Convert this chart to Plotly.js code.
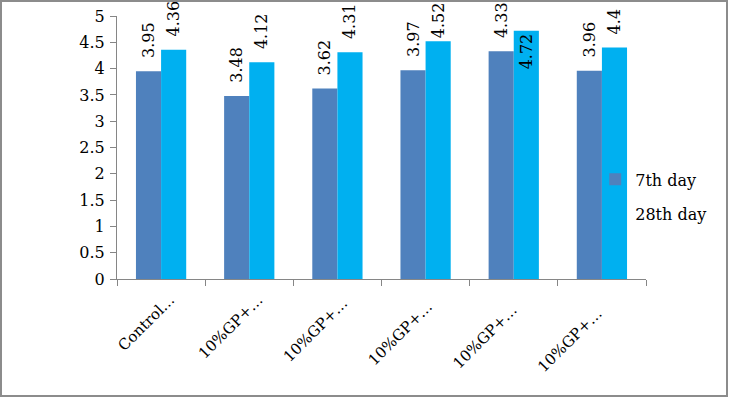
<!DOCTYPE html>
<html>
<head>
<meta charset="utf-8">
<script src="https://cdn.plot.ly/plotly-3.0.1.min.js"></script>
<style>
html,body{margin:0;padding:0;background:#fff;}
#wrap{position:relative;width:730px;height:400px;}
#chart{position:absolute;left:0;top:0;width:730px;height:400px;}
#frame{position:absolute;left:0;top:0;width:728px;height:397px;box-sizing:border-box;border:2px solid #8c8c8c;pointer-events:none;}
</style>
</head>
<body>
<div id="wrap"><div id="chart"></div><div id="frame"></div></div>
<script>
const categories = ["Control…", "10%GP+…", "10%GP+… ", "10%GP+…  ", "10%GP+…   ", "10%GP+…    "];
const day7 = [3.95, 3.48, 3.62, 3.97, 4.33, 3.96];
const day28 = [4.36, 4.12, 4.31, 4.52, 4.72, 4.4];
const seriesNames = ["7th day", "28th day"];
const seriesColors = ["#4F81BD", "#00B0F0"];

const font = "DejaVu Serif";
// labels near the chart top are pulled in so they stay inside the frame
function tmpl(v){ return v > 4.45 ? "%{y}" : "\u00a0\u00a0%{y}"; }
function pos(v){ return v > 4.65 ? "inside" : "outside"; }
function trace(vals, i){
  return {
    type: "bar",
    x: categories,
    y: vals,
    name: seriesNames[i],
    legendgroup: "g" + i,
    marker: {color: seriesColors[i]},
    texttemplate: vals.map(tmpl),
    textposition: vals.map(pos),
    insidetextanchor: "end",
    textangle: -90,
    constraintext: "none",
    cliponaxis: false,
    textfont: {family: font, size: 16, color: "#000"},
    insidetextfont: {family: font, size: 16, color: "#000"},
    outsidetextfont: {family: font, size: 16, color: "#000"},
    hoverinfo: "none"
  };
}
const data = [trace(day7, 0), trace(day28, 1)];
const layout = {
  width: 730, height: 400,
  margin: {l: 117, r: 84, t: 16, b: 121},
  paper_bgcolor: "#fff", plot_bgcolor: "#fff",
  barmode: "group", bargap: 0.43, bargroupgap: 0,
  font: {family: font, size: 16, color: "#000"},
  xaxis: {
    type: "category",
    showline: true, linecolor: "#868686", linewidth: 1,
    ticks: "outside", ticklen: 6, tickcolor: "#868686", tickson: "boundaries",
    tickangle: -45, tickfont: {family: font, size: 15, color: "#000"},
    ticklabelstandoff: 5, ticklabelshift: 9,
    showgrid: false, zeroline: false, fixedrange: true
  },
  yaxis: {
    range: [0, 5], dtick: 0.5, tick0: 0,
    showline: true, linecolor: "#868686", linewidth: 1,
    ticks: "outside", ticklen: 6, tickcolor: "#868686",
    tickfont: {family: font, size: 16, color: "#000"},
    ticklabelstandoff: 2,
    showgrid: false, zeroline: false, fixedrange: true
  },
  showlegend: true,
  legend: {
    x: 0.904, xanchor: "left", y: 0.312, yanchor: "middle",
    bgcolor: "rgba(0,0,0,0)", traceorder: "grouped", tracegroupgap: 11,
    font: {family: font, size: 16, color: "#000"}
  }
};
Plotly.newPlot("chart", data, layout, {displayModeBar: false, staticPlot: true});
</script>
</body>
</html>
